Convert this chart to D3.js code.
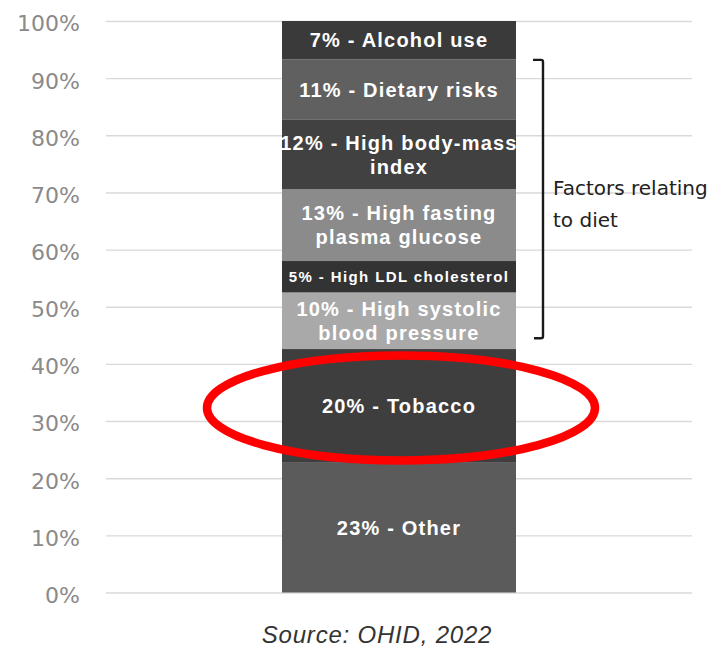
<!DOCTYPE html>
<html>
<head>
<meta charset="utf-8">
<script src="https://cdn.jsdelivr.net/npm/d3@7"></script>
<style>
  html, body { margin: 0; padding: 0; background: #fff; }
  svg { display: block; }
</style>
</head>
<body>
<svg id="chart" width="721" height="649"></svg>
<script>
// segments from the bottom of the bar upwards
const categories = ['Other', 'Tobacco', 'High systolic\nblood pressure', 'High LDL cholesterol',
  'High fasting\nplasma glucose', 'High body-mass\nindex', 'Dietary risks', 'Alcohol use']
const labelPct = [23, 20, 10, 5, 13, 12, 11, 7]
// heights of the segments as drawn (labels are rounded, they add up to 101)
const shares = [22.7, 19.9, 9.9, 5.5, 12.6, 12.1, 10.6, 6.7]
const shades = ['#5b5b5b', '#3e3e3e', '#a9a9a9', '#333333', '#8b8b8b', '#414141', '#606060', '#3a3a3a']
const yTicks = [0, 10, 20, 30, 40, 50, 60, 70, 80, 90, 100]
const dietRange = [44.5, 93.2]   // what the bracket covers, in %
const dietNote = ['Factors relating', 'to diet']
const highlight = 'Tobacco'
const source = 'Source: OHID, 2022'

const svg = d3.select('#chart')
const plot = {left: 106, right: 692, top: 21, bottom: 592.5}

const y = d3.scaleLinear().domain([0, 100]).range([plot.bottom, plot.top])
const x = d3.scaleBand().domain(['all']).range([plot.left, plot.right]).padding(0.4293)

// gridlines + tick labels
const axis = svg.append('g')
  .attr('transform', `translate(${plot.left},0)`)
  .call(d3.axisLeft(y)
    .tickValues(yTicks)
    .tickFormat(d => d + '%')
    .tickSize(-(plot.right - plot.left))
    .tickPadding(26))
axis.select('.domain').remove()
axis.selectAll('.tick line').attr('stroke', '#d9d9d9').attr('stroke-width', 1.4)
axis.selectAll('.tick text')
  .attr('fill', '#8a8a8a')
  .attr('dy', '0.45em')
  .style('font-family', '"DejaVu Sans", sans-serif')
  .style('font-size', '22px')

// stack the single bar
let acc = 0
const segs = shares.map((v, i) => {
  const s = {name: categories[i], pct: labelPct[i], y0: acc, y1: acc + v, fill: shades[i]}
  acc += v
  return s
})

const bar = svg.append('g')
bar.selectAll('rect').data(segs).join('rect')
  .attr('x', x('all'))
  .attr('width', x.bandwidth())
  .attr('y', d => y(d.y1))
  .attr('height', d => y(d.y0) - y(d.y1))
  .attr('fill', d => d.fill)

const cx = x('all') + x.bandwidth() / 2
const labels = bar.selectAll('text.seg').data(segs).join('text')
  .attr('class', 'seg')
  .attr('text-anchor', 'middle')
  .attr('fill', '#fff')
  .style('font-family', '"Liberation Sans", Arial, sans-serif')
  .style('font-weight', 'bold')
  .style('font-size', d => d.pct < 6 ? '15px' : '20px')
  .style('letter-spacing', d => d.pct < 6 ? '1.4px' : '1.2px')

labels.each(function (d) {
  const lines = (d.pct + '% - ' + d.name).split('\n')
  const fs = d.pct < 6 ? 15 : 20
  const lh = 24
  const mid = (y(d.y0) + y(d.y1)) / 2
  d3.select(this).selectAll('tspan').data(lines).join('tspan')
    .attr('x', cx)
    .attr('y', (l, i) => mid + (i - (lines.length - 1) / 2) * lh + fs * 0.36)
    .text(l => l)
})

// red ring round tobacco
const hl = segs.find(d => d.name === highlight)
svg.append('ellipse')
  .attr('cx', cx + 2)
  .attr('cy', (y(hl.y0) + y(hl.y1)) / 2 + 2)
  .attr('rx', 194)
  .attr('ry', 52.5)
  .attr('fill', 'none')
  .attr('stroke', '#ff0000')
  .attr('stroke-width', 8.5)

// bracket for the diet factors
const bx = 543, bTop = y(dietRange[1]), bBot = y(dietRange[0])
svg.append('path')
  .attr('d', `M${bx - 10},${bTop} L${bx - 2},${bTop} Q${bx},${bTop} ${bx},${bTop + 2}
    L${bx},${bBot - 2} Q${bx},${bBot} ${bx - 2},${bBot} L${bx - 9},${bBot}`)
  .attr('fill', 'none')
  .attr('stroke', '#1a1a1a')
  .attr('stroke-width', 2.4)

svg.append('text')
  .attr('x', 553)
  .attr('fill', '#222')
  .style('font-family', '"DejaVu Sans", sans-serif')
  .style('font-size', '20px')
  .selectAll('tspan').data(dietNote).join('tspan')
  .attr('x', 553)
  .attr('y', (d, i) => 195 + i * 32)
  .text(d => d)

svg.append('text')
  .attr('x', 377)
  .attr('y', 643)
  .attr('text-anchor', 'middle')
  .attr('fill', '#333')
  .style('font-family', '"Liberation Sans", Arial, sans-serif')
  .style('font-style', 'italic')
  .style('font-size', '24px')
  .style('letter-spacing', '0.8px')
  .text(source)
</script>
</body>
</html>
